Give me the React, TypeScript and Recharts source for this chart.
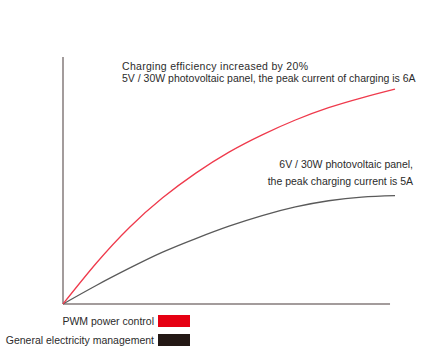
import { Customized, Line, LineChart, ReferenceLine, XAxis, YAxis } from "recharts";

// charge progress (relative units) and current for both controllers
const progress = [0, 10, 20, 30, 40, 50, 60, 70, 80, 90, 100];
const pwmCurrent = [0, 16.5, 31, 43, 53, 61.5, 68.5, 74.5, 79.5, 83.5, 87];
const generalCurrent = [0, 7.5, 14.5, 21, 26.5, 31.5, 35.8, 39.3, 41.8, 43.3, 43.9];

const seriesNames = ["PWM power control", "General electricity management"];
const topNote = [
  "Charging efficiency increased by 20%",
  "5V / 30W photovoltaic panel, the peak current of charging is 6A",
];
const sideNote = ["6V / 30W photovoltaic panel,", "the peak charging current is 5A"];

const lineColors = ["#ef3a4c", "#5a5a5a"];
const swatchColors = ["#e60012", "#231815"];
const axisColor = "#a39c9c";
const textColor = "#2b2b2b";
const font = "'Liberation Sans', Arial, sans-serif";

const data = progress.map((p, i) => ({
  p,
  pwm: pwmCurrent[i],
  general: generalCurrent[i],
}));

function Notes() {
  return (
    <g fontFamily={font} fontSize={10.5} fill={textColor}>
      <text x={122} y={70} letterSpacing={0.3}>{topNote[0]}</text>
      <text x={122} y={82}>{topNote[1]}</text>
      <text x={413} y={168} textAnchor="end">{sideNote[0]}</text>
      <text x={413} y={185} textAnchor="end">{sideNote[1]}</text>
    </g>
  );
}

function LegendBox() {
  return (
    <div
      style={{
        position: "absolute",
        left: 0,
        top: 311,
        width: 190,
        fontFamily: font,
        fontSize: 10.5,
        color: textColor,
      }}
    >
      {seriesNames.map((name, i) => (
        <div
          key={name}
          style={{ display: "flex", alignItems: "center", justifyContent: "flex-end", height: 19 }}
        >
          <span style={{ marginRight: 4, whiteSpace: "nowrap" }}>{name}</span>
          <span style={{ width: 32, height: 12, background: swatchColors[i], display: "inline-block" }} />
        </div>
      ))}
    </div>
  );
}

export default function App() {
  return (
    <div style={{ position: "absolute", left: 0, top: 0, width: 422, height: 362, background: "#fff" }}>
      <LineChart width={422} height={362} data={data} margin={{ top: 57, right: 27, bottom: 58, left: 63 }}>
        <XAxis dataKey="p" type="number" domain={[0, 100]} hide />
        <YAxis type="number" domain={[0, 100]} hide />
        <ReferenceLine segment={[{ x: 0, y: 0 }, { x: 0, y: 100 }]} stroke={axisColor} strokeWidth={2} />
        <ReferenceLine segment={[{ x: 0, y: 0 }, { x: 98.5, y: 0 }]} stroke={axisColor} strokeWidth={2} />
        <Line
          dataKey="general"
          name={seriesNames[1]}
          type="natural"
          stroke={lineColors[1]}
          strokeWidth={1.3}
          dot={false}
          isAnimationActive={false}
        />
        <Line
          dataKey="pwm"
          name={seriesNames[0]}
          type="natural"
          stroke={lineColors[0]}
          strokeWidth={1.3}
          dot={false}
          isAnimationActive={false}
        />
        <Customized component={Notes} />
      </LineChart>
      <LegendBox />
    </div>
  );
}
